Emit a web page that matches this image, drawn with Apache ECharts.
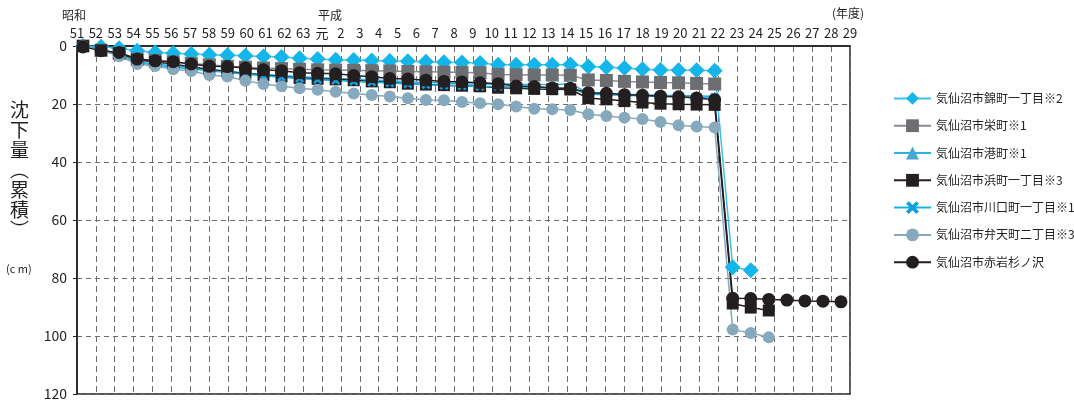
<!DOCTYPE html>
<html><head><meta charset="utf-8">
<script src="https://cdn.jsdelivr.net/npm/echarts@6/dist/echarts.min.js"></script>
<style>html,body{margin:0;padding:0;background:#fff}#c{width:1074px;height:403px}</style>
</head><body><div id="c"></div>
<script>
// Axis tick labels (fiscal years: 昭和51–63, 平成元–29)
const tickLabels = ['51','52','53','54','55','56','57','58','59','60','61','62','63','元','2','3','4','5','6','7','8','9','10','11','12','13','14','15','16','17','18','19','20','21','22','23','24','25','26','27','28','29'];
// Survey points as plotted in the source (43 positions, start point + years)
const dataSlots = ['50','51','52','53','54','55','56','57','58','59','60','61','62','63','元','2','3','4','5','6','7','8','9','10','11','12','13','14','15','16','17','18','19','20','21','22','23','24','25','26','27','28','29'];

const nishiki = [0,0.3,0.8,1.6,2.2,2.5,2.8,3.0,3.2,3.4,3.6,3.8,4.2,4.5,4.7,4.8,5.0,5.2,5.3,5.4,5.6,5.7,5.9,6.5,6.5,6.5,6.5,6.4,7.1,7.3,7.6,8.0,8.3,8.4,8.4,8.5,76.3,77.3,null,null,null,null,null];
const sakae = [0,1.5,2.5,4.5,5.0,5.5,6.0,6.5,7.0,7.3,7.6,7.8,8.0,8.2,8.3,8.4,8.5,8.6,8.8,8.9,9.0,9.1,9.2,9.8,9.9,10.0,10.0,10.1,11.7,11.9,12.2,12.4,12.6,12.7,12.9,13.1,null,null,null,null,null,null,null];
const minato = [0,1.2,3.0,5.5,6.2,6.8,7.5,8.2,8.8,9.3,9.8,10.2,10.6,10.9,11.2,11.4,11.7,12.0,12.3,12.6,12.8,13.0,13.2,13.0,13.2,13.3,13.4,13.0,16.2,16.4,16.6,16.8,17.0,17.1,17.2,17.3,null,null,null,null,null,null,null];
const hama = [0,1.5,2.5,4.8,5.5,6.2,7.2,8.0,8.8,9.5,10.0,10.5,11.0,11.3,11.5,11.8,12.2,12.5,13.0,13.3,13.5,13.7,13.9,14.4,14.6,14.8,14.9,15.0,18.0,18.4,19.0,19.5,19.9,20.1,20.2,20.3,88.8,90.2,91.2,null,null,null,null];
const kawaguchi = [0,1.4,3.2,5.8,6.6,7.2,7.9,8.5,9.1,9.7,10.3,10.8,11.2,11.6,11.9,12.2,12.5,12.8,13.1,13.4,13.6,13.8,14.0,14.0,14.2,14.3,14.5,14.6,16.6,16.8,17.0,17.2,17.4,17.5,17.7,17.6,null,null,null,null,null,null,null];
const benten = [0,1.5,3.5,6.2,6.9,8.0,8.6,10.0,10.5,12.0,13.1,13.9,14.6,15.1,15.8,16.4,16.9,17.4,18.0,18.6,18.7,19.3,19.7,20.1,20.9,21.6,21.8,22.1,23.5,24.1,24.7,25.2,26.2,27.3,27.8,28.1,97.8,99.0,100.4,null,null,null,null];
const akaiwa = [0.3,1.6,2.2,4.5,5.1,5.4,6.2,7.0,7.1,7.6,8.2,8.5,9.2,9.4,9.6,10.2,10.6,11.2,11.4,11.8,12.2,12.4,12.7,13.0,13.8,14.0,14.5,14.6,16.1,16.3,16.8,17.0,17.3,17.5,17.9,18.5,87.0,87.1,87.4,87.6,87.9,88.0,88.2];

const seriesNames = ['気仙沼市錦町一丁目※2','気仙沼市栄町※1','気仙沼市港町※1','気仙沼市浜町一丁目※3','気仙沼市川口町一丁目※1','気仙沼市弁天町二丁目※3','気仙沼市赤岩杉ノ沢'];

const FONT = '"Noto Sans CJK JP","Noto Sans",sans-serif';
const TXT = '#231f20';
const xPath = 'path://M2,0 L5,3 L8,0 L10,2 L7,5 L10,8 L8,10 L5,7 L2,10 L0,8 L3,5 L0,2 Z';

function mk(name, data, symbol, size, color, lineColor) {
  return {
    name, type: 'line', data, xAxisIndex: 1, yAxisIndex: 1,
    symbol, symbolSize: size, showSymbol: true, showAllSymbol: true, connectNulls: false,
    itemStyle: { color: color, opacity: 1 },
    lineStyle: { color: lineColor, width: 1.5 },
    emphasis: { disabled: true }, animation: false
  };
}

const chart = echarts.init(document.getElementById('c'));
chart.setOption({
  animation: false,
  backgroundColor: '#fff',
  textStyle: { fontFamily: FONT },
  grid: [
    { left: 77, right: 224, top: 46, bottom: 9, show: true, borderColor: TXT, borderWidth: 1.5, backgroundColor: 'transparent' },
    { left: 83, right: 233, top: 46, bottom: 9 }
  ],
  xAxis: [
    { type: 'category', gridIndex: 0, position: 'top', data: tickLabels, boundaryGap: false,
      axisLine: { show: true, lineStyle: { color: TXT, width: 1.5 } },
      axisTick: { show: false },
      axisLabel: { interval: 0, fontSize: 13, color: TXT, margin: 6, fontFamily: FONT },
      splitLine: { show: true, interval: 0, lineStyle: { color: '#6d6e71', type: [6, 4], width: 1 } } },
    { type: 'category', gridIndex: 1, data: dataSlots, boundaryGap: false, show: false,
      splitLine: { show: false }, axisLabel: { show: false } }
  ],
  yAxis: [
    { type: 'value', gridIndex: 0, inverse: true, min: 0, max: 120, interval: 20,
      axisLine: { show: true, lineStyle: { color: TXT, width: 1.5 } },
      axisTick: { show: true, length: 4, lineStyle: { color: TXT } },
      axisLabel: { fontSize: 14, color: TXT, margin: 10, fontFamily: FONT },
      splitLine: { show: true, lineStyle: { color: '#6d6e71', type: [5, 4], width: 1 } } },
    { type: 'value', gridIndex: 1, inverse: true, min: 0, max: 120, show: false, splitLine: { show: false } }
  ],
  legend: {
    orient: 'vertical', left: 888, top: 87, itemWidth: 37, itemHeight: 16, itemGap: 14.5,
    textStyle: { fontSize: 12, color: TXT, fontFamily: FONT },
    data: seriesNames
  },
  series: [
    mk(seriesNames[0], nishiki, 'diamond', 16, '#14b6ea', '#3cc0ec'),
    mk(seriesNames[1], sakae, 'rect', 13, '#6d6e71', '#8a8b8d'),
    mk(seriesNames[2], minato, 'triangle', 10, '#4aa6d2', '#27b3e6'),
    mk(seriesNames[3], hama, 'rect', 12, '#231f20', '#231f20'),
    mk(seriesNames[4], kawaguchi, xPath, 9, '#0e9fe0', '#1cb0e8'),
    mk(seriesNames[5], benten, 'circle', 12, '#86a9be', '#86a9be'),
    mk(seriesNames[6], akaiwa, 'circle', 13, '#231f20', '#231f20')
  ],
  graphic: [
    { type: 'text', left: 62, top: 9, style: { text: '昭和', fontSize: 12, fill: TXT, fontFamily: FONT } },
    { type: 'text', left: 318, top: 9, style: { text: '平成', fontSize: 12, fill: TXT, fontFamily: FONT } },
    { type: 'text', left: 832, top: 7, style: { text: '(年度)', fontSize: 12, fill: TXT, fontFamily: FONT } },
    { type: 'text', left: 10, top: 100, style: { text: '沈\n下\n量\n︵\n累\n積\n︶', fontSize: 19, lineHeight: 20, fill: TXT, fontFamily: FONT } },
    { type: 'text', left: 6, top: 263, style: { text: '(c m)', fontSize: 11, fill: TXT, fontFamily: FONT } }
  ]
});
</script>
</body></html>
